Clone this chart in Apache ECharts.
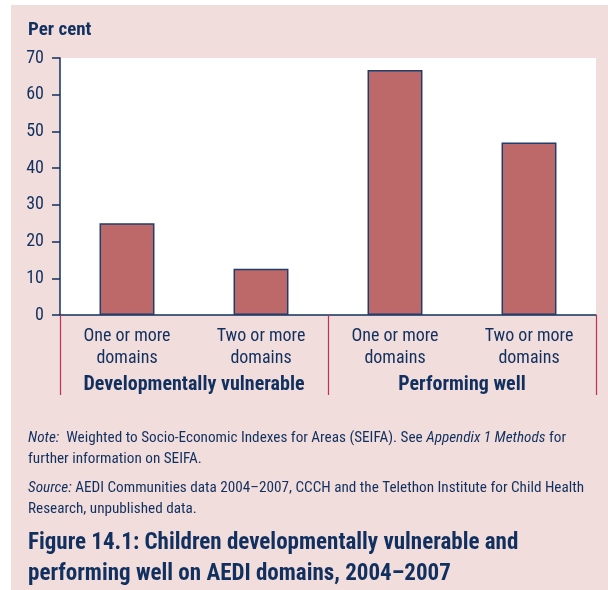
<!DOCTYPE html>
<html>
<head>
<meta charset="utf-8">
<script src="https://cdn.jsdelivr.net/npm/echarts@6/dist/echarts.min.js"></script>
<style>
  html, body { margin: 0; padding: 0; background: #fff; }
  #panel { position: absolute; left: 11px; top: 5px; width: 597px; height: 585px; background: #f1dddb; }
  #chart { position: absolute; left: 0; top: 0; width: 608px; height: 590px; }
</style>
</head>
<body>
<div id="panel"></div>
<div id="chart"></div>
<script>
// data
const categories = ['One or more\ndomains', 'Two or more\ndomains', 'One or more\ndomains', 'Two or more\ndomains']
const groups = ['Developmentally vulnerable', 'Performing well']
const values = [25, 12.6, 66.7, 47]

const navy = '#12305f'
const font = '"Roboto Condensed", "Liberation Sans Narrow", sans-serif'

const chart = echarts.init(document.getElementById('chart'))

const option = {
  backgroundColor: 'transparent',
  animation: false,
  textStyle: { fontFamily: font, color: navy },
  grid: {
    left: 60,
    top: 58,
    width: 536,
    height: 257,
    show: true,
    backgroundColor: '#fff',
    borderWidth: 0
  },
  xAxis: [
    {
      type: 'category',
      data: categories,
      axisLine: { lineStyle: { color: navy, width: 1.5 } },
      axisTick: { show: false },
      axisLabel: {
        color: navy,
        fontFamily: font,
        fontSize: 18,
        lineHeight: 22,
        margin: 10,
        interval: 0
      }
    },
    {
      type: 'category',
      position: 'bottom',
      data: groups,
      axisLine: { show: false },
      axisTick: {
        show: true,
        inside: false,
        length: 80,
        lineStyle: { color: '#c0305a', width: 1.2 }
      },
      axisLabel: {
        color: navy,
        fontFamily: font,
        fontWeight: 'bold',
        fontSize: 20,
        margin: 60,
        interval: 0
      }
    }
  ],
  yAxis: {
    type: 'value',
    min: 0,
    max: 70,
    interval: 10,
    splitLine: { show: false },
    axisLine: { show: true, lineStyle: { color: navy, width: 1.5 } },
    axisTick: { show: true, length: 8, lineStyle: { color: navy, width: 1.5 } },
    axisLabel: { color: navy, fontFamily: font, fontSize: 18, margin: 16 }
  },
  series: [{
    type: 'bar',
    data: values,
    barWidth: '41%',
    itemStyle: {
      color: '#bd6969',
      borderColor: '#1f3d6e',
      borderWidth: 1.5
    }
  }],
  graphic: [
    {
      type: 'text',
      left: 28,
      top: 21,
      style: { text: 'Per cent', font: 'bold 19px ' + font, fill: navy }
    },
    {
      type: 'text',
      left: 28,
      top: 428,
      style: {
        text: '{i|Note:}  Weighted to Socio-Economic Indexes for Areas (SEIFA). See {i|Appendix 1 Methods} for\nfurther information on SEIFA.',
        font: '15.2px ' + font,
        fill: navy,
        lineHeight: 21,
        rich: { i: { fontStyle: 'italic', fontSize: 15.2, fontFamily: font, fill: navy } }
      }
    },
    {
      type: 'text',
      left: 28,
      top: 478,
      style: {
        text: '{i|Source:} AEDI Communities data 2004\u20132007, CCCH and the Telethon Institute for Child Health\nResearch, unpublished data.',
        font: '15.2px ' + font,
        fill: navy,
        lineHeight: 21,
        rich: { i: { fontStyle: 'italic', fontSize: 15.2, fontFamily: font, fill: navy } }
      }
    },
    {
      type: 'text',
      left: 28,
      top: 528,
      style: {
        text: 'Figure 14.1: Children developmentally vulnerable and\nperforming well on AEDI domains, 2004\u20132007',
        font: 'bold 23px ' + font,
        fill: navy,
        lineHeight: 31
      }
    }
  ]
}

chart.setOption(option)
</script>
</body>
</html>
